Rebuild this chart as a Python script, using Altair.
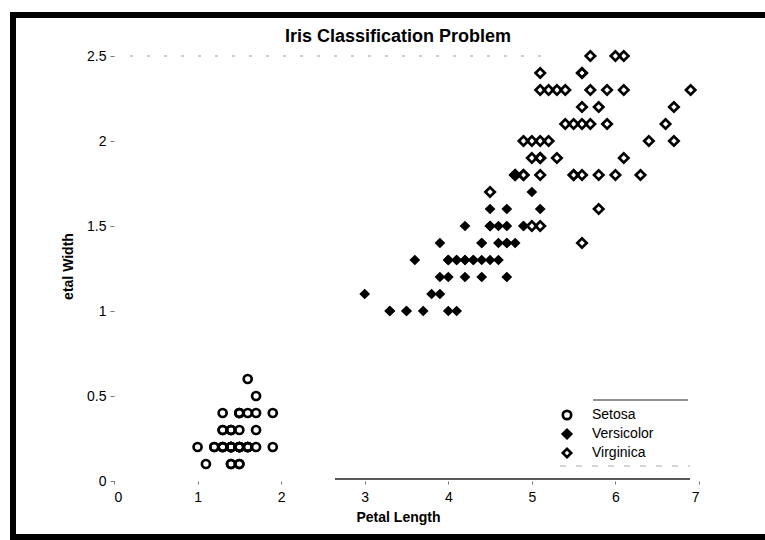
import altair as alt
import pandas as pd

species_names = ["Setosa", "Versicolor", "Virginica"]

setosa_length = [1.4, 1.4, 1.3, 1.5, 1.4, 1.7, 1.4, 1.5, 1.4, 1.5, 1.5, 1.6, 1.4, 1.1, 1.2, 1.5, 1.3,
                 1.4, 1.7, 1.5, 1.7, 1.5, 1.0, 1.7, 1.9, 1.6, 1.6, 1.5, 1.4, 1.6, 1.6, 1.5, 1.5, 1.4,
                 1.5, 1.2, 1.3, 1.4, 1.3, 1.5, 1.3, 1.3, 1.3, 1.6, 1.9, 1.4, 1.6, 1.4, 1.5, 1.4]
setosa_width = [0.2, 0.2, 0.2, 0.2, 0.2, 0.4, 0.3, 0.2, 0.2, 0.1, 0.2, 0.2, 0.1, 0.1, 0.2, 0.4, 0.4,
                0.3, 0.3, 0.3, 0.2, 0.4, 0.2, 0.5, 0.2, 0.2, 0.4, 0.2, 0.2, 0.2, 0.2, 0.4, 0.1, 0.2,
                0.2, 0.2, 0.2, 0.1, 0.2, 0.2, 0.3, 0.3, 0.2, 0.6, 0.4, 0.3, 0.2, 0.2, 0.2, 0.2]

versicolor_length = [4.7, 4.5, 4.9, 4.0, 4.6, 4.5, 4.7, 3.3, 4.6, 3.9, 3.5, 4.2, 4.0, 4.7, 3.6, 4.4,
                     4.5, 4.1, 4.5, 3.9, 4.8, 4.0, 4.9, 4.7, 4.3, 4.4, 4.8, 5.0, 4.5, 3.5, 3.8, 3.7,
                     3.9, 5.1, 4.5, 4.5, 4.7, 4.4, 4.1, 4.0, 4.4, 4.6, 4.0, 3.3, 4.2, 4.2, 4.2, 4.3,
                     3.0, 4.1]
versicolor_width = [1.4, 1.5, 1.5, 1.3, 1.5, 1.3, 1.6, 1.0, 1.3, 1.4, 1.0, 1.5, 1.0, 1.4, 1.3, 1.4,
                    1.5, 1.0, 1.5, 1.1, 1.8, 1.3, 1.5, 1.2, 1.3, 1.4, 1.4, 1.7, 1.5, 1.0, 1.1, 1.0,
                    1.2, 1.6, 1.5, 1.6, 1.5, 1.3, 1.3, 1.3, 1.2, 1.4, 1.2, 1.0, 1.3, 1.2, 1.3, 1.3,
                    1.1, 1.3]

virginica_length = [6.0, 5.1, 5.9, 5.6, 5.8, 6.6, 4.5, 6.3, 5.8, 6.1, 5.1, 5.3, 5.5, 5.0, 5.1, 5.3,
                    5.5, 6.7, 6.9, 5.0, 5.7, 4.9, 6.7, 4.9, 5.7, 6.0, 4.8, 4.9, 5.6, 5.8, 6.1, 6.4,
                    5.6, 5.1, 5.6, 6.1, 5.6, 5.5, 4.8, 5.4, 5.6, 5.1, 5.1, 5.9, 5.7, 5.2, 5.0, 5.2,
                    5.4, 5.1]
virginica_width = [2.5, 1.9, 2.1, 1.8, 2.2, 2.1, 1.7, 1.8, 1.8, 2.5, 2.0, 1.9, 2.1, 2.0, 2.4, 2.3,
                   1.8, 2.2, 2.3, 1.5, 2.3, 2.0, 2.0, 1.8, 2.1, 1.8, 1.8, 1.8, 2.1, 1.6, 1.9, 2.0,
                   2.2, 1.5, 1.4, 2.3, 2.4, 1.8, 1.8, 2.1, 2.4, 2.3, 1.9, 2.3, 2.5, 2.3, 1.9, 2.0,
                   2.3, 1.8]

x_ticks = [0, 1, 2, 3, 4, 5, 6, 7]
y_ticks = [0, 0.5, 1, 1.5, 2, 2.5]
title_text = "Iris Classification Problem"

rows = []
for name, L, Wd in zip(species_names,
                       [setosa_length, versicolor_length, virginica_length],
                       [setosa_width, versicolor_width, virginica_width]):
    for l, w in zip(L, Wd):
        rows.append({"species": name, "length": l, "width": w})
df = pd.DataFrame(rows)

W, H = 585, 425
BOLD = "Liberation Sans Narrow, Liberation Sans, Arial"
REG = "Liberation Sans, Arial"

legend = alt.Legend(title=None, orient="none", legendX=446, legendY=352,
                    rowPadding=-1, symbolSize=70, symbolStrokeWidth=2.7,
                    labelFontSize=14, labelOffset=18)

size_rule = (alt.when(alt.datum.species == "Versicolor").then(alt.value(48))
             .when(alt.datum.species == "Virginica").then(alt.value(88))
             .otherwise(alt.value(64)))

points = alt.Chart(df).mark_point(opacity=1, strokeWidth=2.7).encode(
    x=alt.X("length:Q", scale=alt.Scale(domain=[0, 7], nice=False, zero=False),
            axis=alt.Axis(values=x_ticks, format="~g", titleX=284, titleY=36,
                          titleAlign="center", titleBaseline="middle",
                          tickSize=3, labelPadding=6),
            title="Petal Length"),
    y=alt.Y("width:Q", scale=alt.Scale(domain=[0, 2.5], nice=False),
            axis=alt.Axis(values=y_ticks, format="~g", titleX=-46, titleY=210,
                          titleAngle=270, titleAlign="center", titleBaseline="middle",
                          tickSize=4, labelPadding=4),
            title="etal Width"),
    shape=alt.Shape("species:N", scale=alt.Scale(domain=species_names,
                    range=["circle", "diamond", "diamond"]), legend=legend),
    fill=alt.Fill("species:N", scale=alt.Scale(domain=species_names,
                  range=["transparent", "black", "transparent"]), legend=legend),
    stroke=alt.Stroke("species:N", scale=alt.Scale(domain=species_names,
                  range=["black", "black", "black"]), legend=legend),
    size=size_rule,
)

one = pd.DataFrame({"a": [0]})

def hrule(x1, x2, y, width=1, color="black", dash=None):
    kw = dict(stroke=color, strokeWidth=width)
    if dash:
        kw["strokeDash"] = dash
    return alt.Chart(one).mark_rule(**kw).encode(
        x=alt.value(x1), x2=alt.value(x2), y=alt.value(y))

def vrule(x, y1, y2, width=1, color="black"):
    return alt.Chart(one).mark_rule(stroke=color, strokeWidth=width).encode(
        x=alt.value(x), y=alt.value(y1), y2=alt.value(y2))

title = alt.Chart(one).mark_text(
    text=title_text, font=BOLD, fontSize=18, fontWeight="bold", color="black",
    align="center", baseline="alphabetic",
).encode(x=alt.value(284), y=alt.value(-14))

decor = [
    vrule(-101, -44, 484, width=6),
    hrule(-104, 651, -41, width=6),
    hrule(-104, 651, 481, width=6),
    hrule(221, 576, 423, width=1.5, color="#222"),
    hrule(16, 431, 0, width=1, color="#999", dash=[3, 14]),
    hrule(479, 574, 344, width=1.2, color="#222"),
    hrule(446, 576, 410, width=1, color="#aaa", dash=[6, 10]),
]

chart = alt.layer(*decor, title, points).properties(
    width=W, height=H,
    padding={"left": 114, "top": 56, "right": 66, "bottom": 59},
    autosize=alt.AutoSizeParams(type="none"),
    background="white",
).configure_view(stroke=None).configure_axis(
    domain=False, grid=False, labelFont=REG, labelFontSize=14, labelColor="black",
    titleFont=BOLD, titleFontSize=14, titleFontWeight="bold", titleColor="black",
    tickColor="#777",
).configure_legend(
    labelFont=REG, labelColor="black",
)

chart.save("out.html", embed_options={"renderer": "svg", "actions": False})
